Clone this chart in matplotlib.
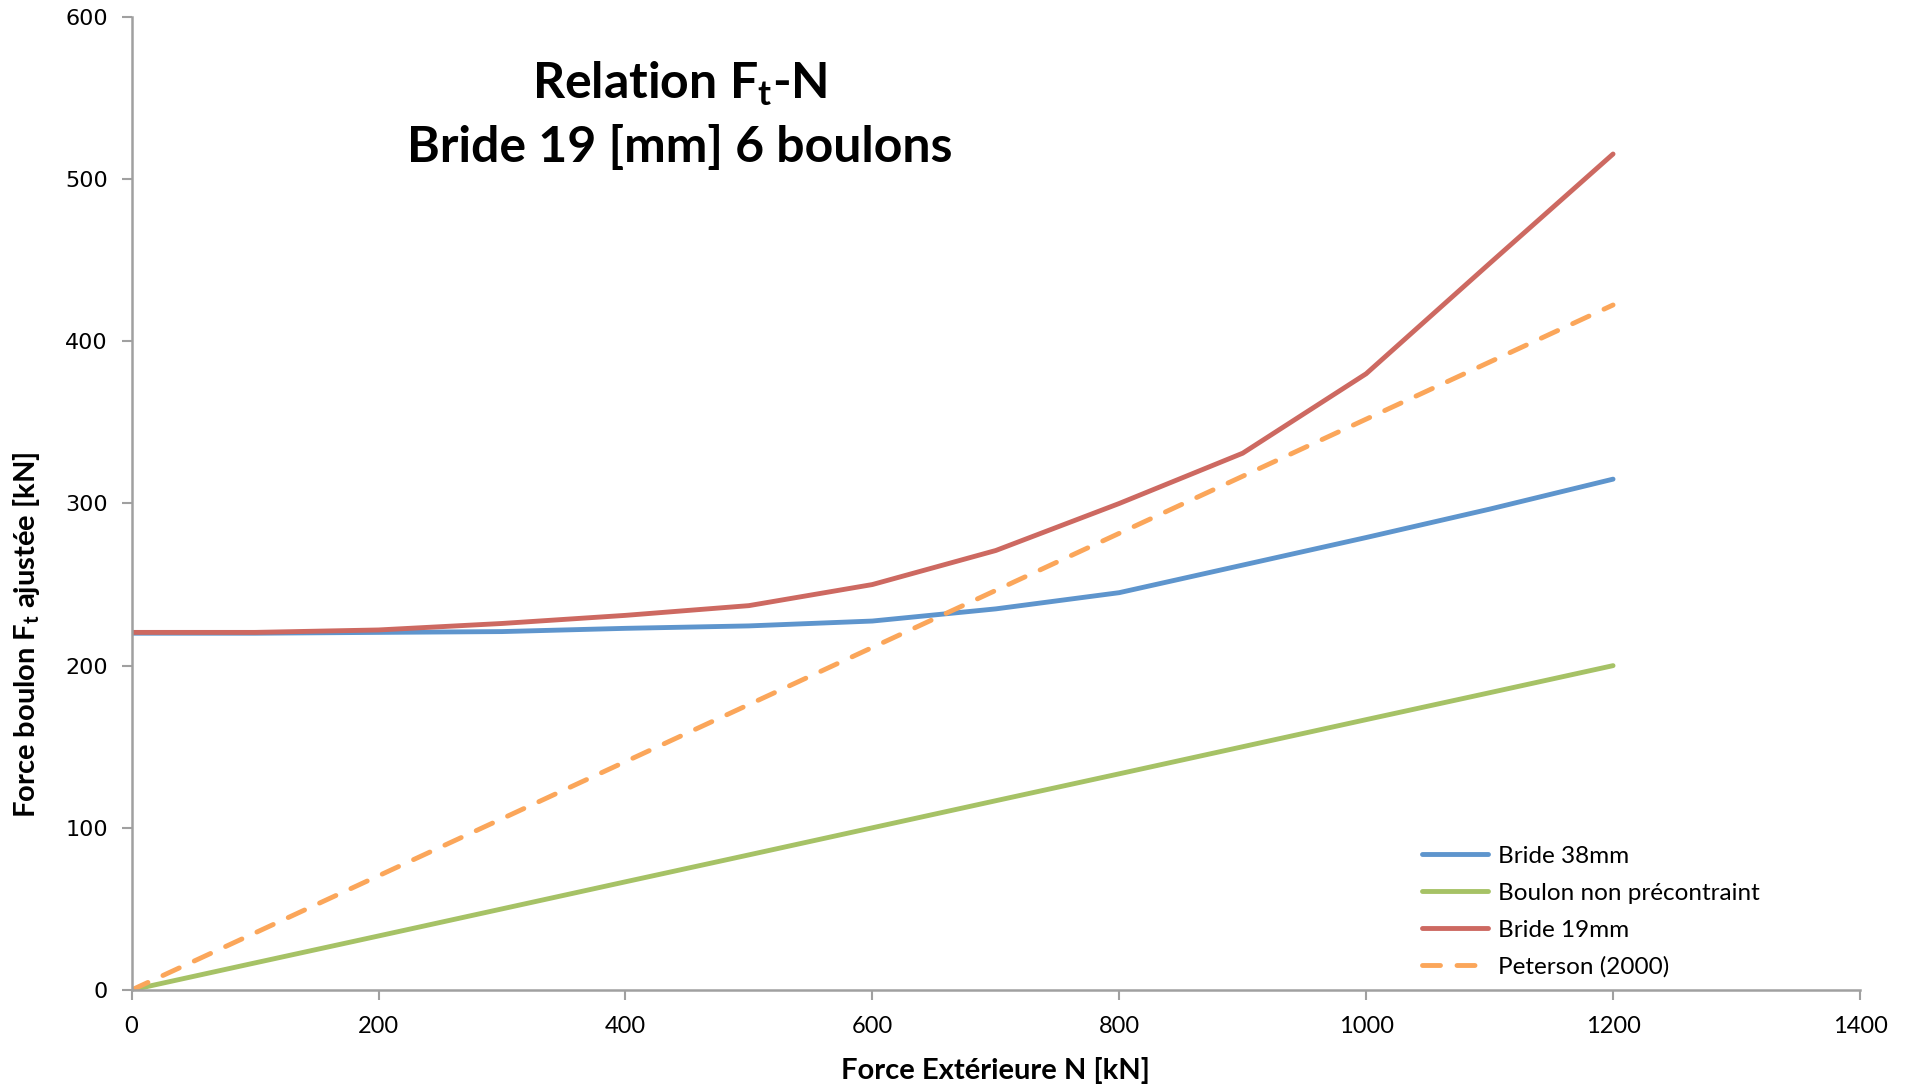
import matplotlib
matplotlib.use("Agg")
import matplotlib.pyplot as plt

# Force extérieure N [kN]
force_ext = [0, 100, 200, 300, 400, 500, 600, 700, 800, 900, 1000, 1100, 1200]

# Force boulon Ft ajustée [kN]
bride_38 = [220, 220, 220.5, 221, 223, 224.5, 227.5, 235, 245, 262, 279, 296.5, 315]
boulon_non_precontraint = [0, 16.7, 33.3, 50, 66.7, 83.3, 100, 116.7, 133.3, 150, 166.7, 183.3, 200]
bride_19 = [220.5, 220.5, 222, 226, 231, 237, 250, 271, 300, 331, 380, 448, 515.5]
peterson_2000 = [0, 35.2, 70.4, 105.6, 140.8, 176, 211.2, 246.4, 281.6, 316.8, 352, 387.2, 422.4]

x_ticks = [0, 200, 400, 600, 800, 1000, 1200, 1400]
y_ticks = [0, 100, 200, 300, 400, 500, 600]

series_labels = ["Bride 38mm", "Boulon non précontraint", "Bride 19mm", "Peterson (2000)"]
colors = ["#5E95CD", "#A6C266", "#CD6961", "#FBA65A"]

plt.rcParams["mathtext.default"] = "regular"

fig = plt.figure(figsize=(19.10, 10.88), dpi=100)
ax = fig.add_axes([0.0689, 0.0901, 0.9049, 0.8943])

lw = 3.5
ax.plot(force_ext, bride_38, color=colors[0], lw=lw, solid_capstyle="round",
        solid_joinstyle="round", label=series_labels[0])
ax.plot(force_ext, boulon_non_precontraint, color=colors[1], lw=lw, solid_capstyle="round",
        solid_joinstyle="round", label=series_labels[1])
ax.plot(force_ext, bride_19, color=colors[2], lw=lw, solid_capstyle="round",
        solid_joinstyle="round", label=series_labels[2])
ax.plot(force_ext, peterson_2000, color=colors[3], lw=lw, dashes=(3.7, 3.4),
        dash_capstyle="round", label=series_labels[3])

ax.set_xlim(0, 1400)
ax.set_ylim(0, 600)
ax.set_xticks(x_ticks)
ax.set_yticks(y_ticks)

for side in ("top", "right"):
    ax.spines[side].set_visible(False)
for side in ("left", "bottom"):
    ax.spines[side].set_color("#A0A0A0")
    ax.spines[side].set_linewidth(1.8)
ax.tick_params(axis="both", direction="out", length=7, width=1.5, color="#A0A0A0",
               labelcolor="black")
ax.tick_params(axis="y", pad=10)
ax.tick_params(axis="x", pad=12)
for lbl in ax.get_xticklabels():
    lbl.set_fontfamily("Lato")
    lbl.set_fontsize(17)
for lbl in ax.get_yticklabels():
    lbl.set_fontfamily("DejaVu Sans")
    lbl.set_fontsize(16)

ax.set_xlabel("Force Extérieure N [kN]", fontfamily="Lato", fontweight="bold",
              fontsize=21, labelpad=14)
ax.set_ylabel("Force boulon F$_\\mathregular{t}$ ajustée [kN]", fontfamily="Lato",
              fontweight="bold", fontsize=21, labelpad=18)
ax.yaxis.set_label_coords(-0.052, 0.365)

ax.text(0.317, 0.932, "Relation F$_\\mathregular{t}$-N", transform=ax.transAxes,
        ha="center", va="center", fontfamily="Lato", fontweight="bold", fontsize=36)
ax.text(0.317, 0.866, "Bride 19 [mm] 6 boulons", transform=ax.transAxes,
        ha="center", va="center", fontfamily="Lato", fontweight="bold", fontsize=36)

leg = ax.legend(loc="lower left", bbox_to_anchor=(0.7365, -0.005), frameon=False,
                prop={"family": "Lato", "size": 17.5}, handlelength=2.75,
                handletextpad=0.4, labelspacing=0.65, borderaxespad=0.3)

fig.savefig("out.png", dpi=100, facecolor="white")
